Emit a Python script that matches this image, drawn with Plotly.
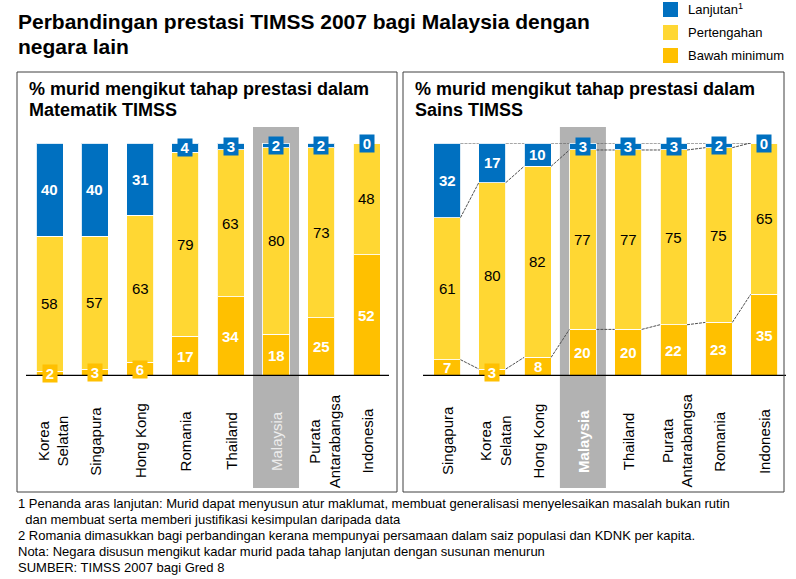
import plotly.graph_objects as go

# ---------------- data ----------------
math_countries = ["Korea<br>Selatan", "Singapura", "Hong Kong", "Romania", "Thailand",
                  "Malaysia", "Purata<br>Antarabangsa", "Indonesia"]
math_lanjutan = [40, 40, 31, 4, 3, 2, 2, 0]
math_pertengahan = [58, 57, 63, 79, 63, 80, 73, 48]
math_bawah = [2, 3, 6, 17, 34, 18, 25, 52]

sci_countries = ["Singapura", "Korea<br>Selatan", "Hong Kong", "Malaysia", "Thailand",
                 "Purata<br>Antarabangsa", "Romania", "Indonesia"]
sci_lanjutan = [32, 17, 10, 3, 3, 3, 2, 0]
sci_pertengahan = [61, 80, 82, 77, 77, 75, 75, 65]
sci_bawah = [7, 3, 8, 20, 20, 22, 23, 35]

series_names = ["Lanjutan<sup>1</sup>", "Pertengahan", "Bawah minimum"]
title_lines = ["Perbandingan prestasi TIMSS 2007 bagi Malaysia dengan", "negara lain"]
panel_title_lines = [["% murid mengikut tahap prestasi dalam", "Matematik TIMSS"],
                     ["% murid mengikut tahap prestasi dalam", "Sains TIMSS"]]
footnotes = [
    "1 Penanda aras lanjutan: Murid dapat menyusun atur maklumat, membuat generalisasi menyelesaikan masalah bukan rutin",
    "\u00a0\u00a0dan membuat serta memberi justifikasi kesimpulan daripada data",
    "2 Romania dimasukkan bagi perbandingan kerana mempunyai persamaan dalam saiz populasi dan KDNK per kapita.",
    "Nota: Negara disusun mengikut kadar murid pada tahap lanjutan dengan susunan menurun",
    "SUMBER: TIMSS 2007 bagi Gred 8",
]

# ---------------- style ----------------
W, H = 796, 579
BLUE = "#0070C0"
YELLOW = "#FFD733"
ORANGE = "#FFC000"
GRAY = "#B2B2B2"
FONT = "Arial, Liberation Sans, sans-serif"
BAR_W = 0.596


def px_x(p):
    return p / W


def px_y(p):
    return 1 - p / H


fig = go.Figure()
annotations = []
shapes = []


def text_at(x, y, text, size, color="black", xanchor="left", **kw):
    annotations.append(dict(xref="paper", yref="paper", x=px_x(x), y=px_y(y), text=text,
                            xanchor=xanchor, yanchor="middle", showarrow=False, align="left",
                            font=dict(family=FONT, size=size, color=color), **kw))


panels = [
    dict(cats=math_countries, lan=math_lanjutan, per=math_pertengahan, baw=math_bawah,
         xa="x", ya="y", box=(17, 397), connectors=False, malaysia_bold=False),
    dict(cats=sci_countries, lan=sci_lanjutan, per=sci_pertengahan, baw=sci_bawah,
         xa="x2", ya="y2", box=(403, 784), connectors=True, malaysia_bold=True),
]

for pi, p in enumerate(panels):
    n = len(p["cats"])
    xs = list(range(n))
    for vals, col, name in [(p["baw"], ORANGE, series_names[2]),
                            (p["per"], YELLOW, series_names[1]),
                            (p["lan"], BLUE, series_names[0])]:
        fig.add_trace(go.Bar(x=xs, y=vals, name=name, marker_color=col, width=BAR_W,
                             marker_line=dict(color="rgba(255,255,255,0.85)", width=1),
                             xaxis=p["xa"], yaxis=p["ya"], showlegend=False,
                             hoverinfo="skip"))

    # highlight for Malaysia
    mi = p["cats"].index("Malaysia")
    shapes.append(dict(type="rect", xref=p["xa"], yref="paper",
                       x0=mi - 0.508, x1=mi + 0.508, y0=px_y(488), y1=px_y(127),
                       fillcolor=GRAY, line_width=0, layer="below"))
    # baseline
    shapes.append(dict(type="line", xref=p["xa"] + " domain", yref=p["ya"],
                       x0=0, x1=1, y0=0, y1=0, line=dict(color="black", width=2.5),
                       layer="above"))
    # panel border
    shapes.append(dict(type="rect", xref="paper", yref="paper",
                       x0=px_x(p["box"][0]), x1=px_x(p["box"][1]), y0=px_y(492), y1=px_y(72),
                       line=dict(color="#404040", width=1), fillcolor="rgba(0,0,0,0)"))
    # panel title
    for li, (line, yc) in enumerate(zip(panel_title_lines[pi], [88.5, 109.5])):
        text_at(p["box"][0] + 10, yc, "<b>" + line + "</b>", 18)

    # segment labels
    for i in xs:
        segs = [(p["baw"][i], 0, ORANGE, "white", True),
                (p["per"][i], p["baw"][i], YELLOW, "black", False),
                (p["lan"][i], p["baw"][i] + p["per"][i], BLUE, "white", True)]
        for v, base, col, tcol, bold in segs:
            c = base + v / 2
            txt = f"<b>{v}</b>" if bold else str(v)
            if v >= 7:
                annotations.append(dict(xref=p["xa"], yref=p["ya"], x=i, y=c, text=txt,
                                        showarrow=False, xanchor="center", yanchor="middle",
                                        font=dict(family=FONT, size=15, color=tcol)))
            else:
                annotations.append(dict(xref=p["xa"], yref=p["ya"], x=i, y=c,
                                        text=f"<b>{v}</b>", showarrow=False,
                                        xanchor="center", yanchor="middle",
                                        bgcolor=col, borderpad=0, width=14, height=17,
                                        font=dict(family=FONT, size=15, color="white")))

    # category labels
    for i, cat in enumerate(p["cats"]):
        if cat == "Malaysia":
            txt = "<b>Malaysia</b>" if p["malaysia_bold"] else "Malaysia"
            col = "white" if p["malaysia_bold"] else "#EDEDED"
        else:
            txt, col = cat, "black"
        annotations.append(dict(xref=p["xa"], yref="paper", x=i, y=px_y(441), text=txt,
                                textangle=-90, showarrow=False, align="center",
                                xanchor="center", yanchor="middle",
                                xshift=3 if "<br>" in cat else 0,
                                font=dict(family=FONT, size=15, color=col)))

    # dashed connectors (science panel)
    if p["connectors"]:
        for i in range(n - 1):
            lv_a = [p["baw"][i], p["baw"][i] + p["per"][i],
                    p["baw"][i] + p["per"][i] + p["lan"][i]]
            lv_b = [p["baw"][i + 1], p["baw"][i + 1] + p["per"][i + 1],
                    p["baw"][i + 1] + p["per"][i + 1] + p["lan"][i + 1]]
            for ya_, yb_ in zip(lv_a, lv_b):
                shapes.append(dict(type="line", xref=p["xa"], yref=p["ya"],
                                   x0=i + BAR_W / 2, x1=i + 1 - BAR_W / 2, y0=ya_, y1=yb_,
                                   line=dict(color="#505050", width=1, dash="3px,1px"),
                                   layer="above"))

# title
for line, yc in zip(title_lines, [22, 46]):
    text_at(16, yc, "<b>" + line + "</b>", 21)

# legend
leg_cols = [BLUE, YELLOW, ORANGE]
leg_y = [9.5, 32.5, 55.5]
for name, col, yc in zip(series_names, leg_cols, leg_y):
    shapes.append(dict(type="rect", xref="paper", yref="paper",
                       x0=px_x(663), x1=px_x(678), y0=px_y(yc + 7.5), y1=px_y(yc - 7.5),
                       fillcolor=col, line_width=0))
    text_at(686, yc, name, 13)

# footnotes
for line, yc in zip(footnotes, [503, 519, 535, 551, 567]):
    text_at(16, yc, line, 13)

axis_common = dict(showgrid=False, zeroline=False, showticklabels=False, showline=False,
                   ticks="", fixedrange=True)
fig.update_layout(
    width=W, height=H, margin=dict(l=0, r=0, t=0, b=0),
    paper_bgcolor="white", plot_bgcolor="rgba(0,0,0,0)",
    barmode="stack", bargap=0,
    xaxis=dict(domain=[px_x(26), px_x(389)], range=[-0.519, 7.494], anchor="y", **axis_common),
    yaxis=dict(domain=[px_y(376), px_y(143)], range=[0, 100], anchor="x", **axis_common),
    xaxis2=dict(domain=[px_x(423), px_x(786)], range=[-0.530, 7.483], anchor="y2", **axis_common),
    yaxis2=dict(domain=[px_y(376), px_y(143)], range=[0, 100], anchor="x2", **axis_common),
    shapes=shapes, annotations=annotations,
    font=dict(family=FONT),
    hovermode=False,
)

fig.write_html("out.html", config={"displayModeBar": False, "staticPlot": True},
               post_script="document.body.style.margin='0';document.body.style.padding='0';")
